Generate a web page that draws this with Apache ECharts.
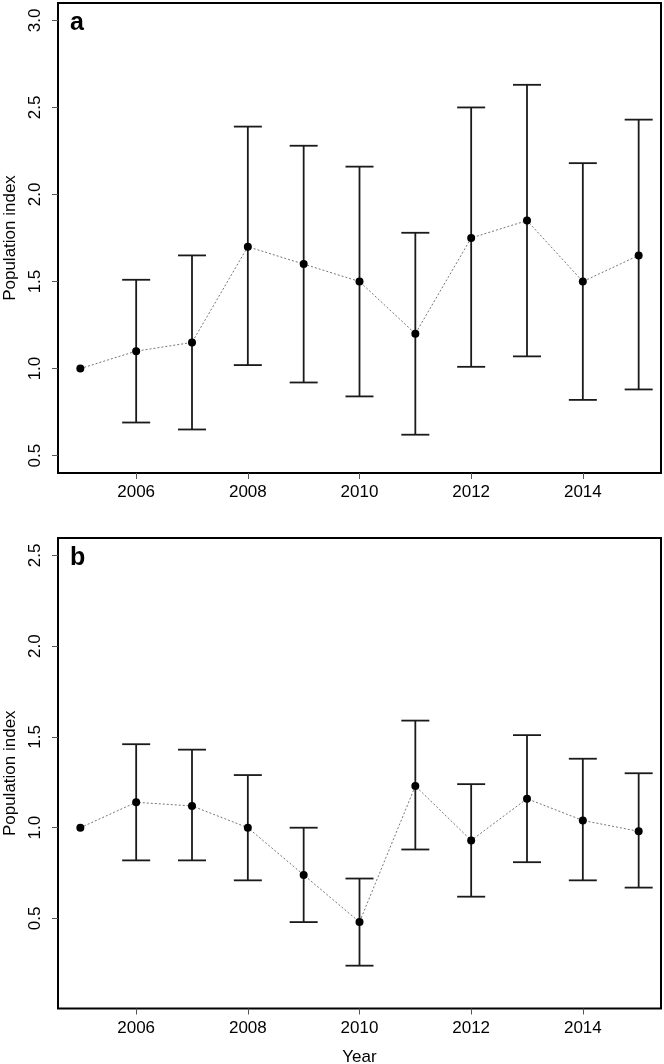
<!DOCTYPE html>
<html>
<head>
<meta charset="utf-8">
<script src="https://cdn.jsdelivr.net/npm/echarts@6/dist/echarts.min.js"></script>
<style>
  html, body { margin: 0; padding: 0; background: #fff; }
  #chart { width: 664px; height: 1064px; }
</style>
</head>
<body>
<div id="chart"></div>
<script>
// ---- data ----
const years = [2005, 2006, 2007, 2008, 2009, 2010, 2011, 2012, 2013, 2014, 2015];
const xTicks = [2006, 2008, 2010, 2012, 2014];

const indexA = [1.00, 1.10, 1.15, 1.70, 1.60, 1.50, 1.20, 1.75, 1.85, 1.50, 1.65];
const lowerA = [null, 0.69, 0.65, 1.02, 0.92, 0.84, 0.62, 1.01, 1.07, 0.82, 0.88];
const upperA = [null, 1.51, 1.65, 2.39, 2.28, 2.16, 1.78, 2.50, 2.63, 2.18, 2.43];
const yTicksA = [0.5, 1.0, 1.5, 2.0, 2.5, 3.0];

const indexB = [1.00, 1.14, 1.12, 1.00, 0.74, 0.48, 1.23, 0.93, 1.16, 1.04, 0.98];
const lowerB = [null, 0.82, 0.82, 0.71, 0.48, 0.24, 0.88, 0.62, 0.81, 0.71, 0.67];
const upperB = [null, 1.46, 1.43, 1.29, 1.00, 0.72, 1.59, 1.24, 1.51, 1.38, 1.30];
const yTicksB = [0.5, 1.0, 1.5, 2.0, 2.5];

const panelLabels = ['a', 'b'];
const yTitle = 'Population index';
const xTitle = 'Year';

// ---- chart ----
const FONT = '"Liberation Sans", Arial, sans-serif';
const chart = echarts.init(document.getElementById('chart'), null, { renderer: 'canvas' });

function pairs(vals) { return years.map((y, i) => [y, vals[i]]); }
function errData(lo, hi) {
  const out = [];
  years.forEach((y, i) => { if (lo[i] != null && hi[i] != null) out.push([y, lo[i], hi[i]]); });
  return out;
}

const barStyle = { stroke: '#1a1a1a', lineWidth: 1.8 };
function renderErr(params, api) {
  const x = api.value(0), lo = api.value(1), hi = api.value(2);
  const pLo = api.coord([x, lo]);
  const pHi = api.coord([x, hi]);
  const w = 14;
  return {
    type: 'group',
    children: [
      { type: 'line', shape: { x1: pHi[0], y1: pHi[1], x2: pLo[0], y2: pLo[1] }, style: barStyle },
      { type: 'line', shape: { x1: pHi[0] - w, y1: pHi[1], x2: pHi[0] + w, y2: pHi[1] }, style: barStyle },
      { type: 'line', shape: { x1: pLo[0] - w, y1: pLo[1], x2: pLo[0] + w, y2: pLo[1] }, style: barStyle }
    ]
  };
}

function xAxisCfg(gridIndex, withName) {
  return {
    type: 'value', gridIndex: gridIndex,
    min: 2004.6, max: 2015.4,
    axisLine: { show: false },
    splitLine: { show: false },
    axisTick: { show: true, length: 6, customValues: xTicks, lineStyle: { color: '#555', width: 1 } },
    axisLabel: {
      customValues: xTicks, formatter: v => String(v),
      color: '#000', fontSize: 17, fontFamily: FONT, margin: 11
    },
    name: withName ? xTitle : '',
    nameLocation: 'middle', nameGap: 40,
    nameTextStyle: { color: '#000', fontSize: 17, fontFamily: FONT }
  };
}
function yAxisCfg(gridIndex, min, max, ticks) {
  return {
    type: 'value', gridIndex: gridIndex,
    min: min, max: max,
    axisLine: { show: false },
    splitLine: { show: false },
    axisTick: { show: true, length: 6, customValues: ticks, lineStyle: { color: '#555', width: 1 } },
    axisLabel: {
      customValues: ticks, formatter: v => v.toFixed(1), rotate: 90,
      color: '#000', fontSize: 17, fontFamily: FONT, margin: 14
    },
    name: yTitle, nameLocation: 'middle', nameGap: 37, nameRotate: 90,
    nameTextStyle: { color: '#000', fontSize: 17, fontFamily: FONT }
  };
}

function panelSeries(idx, lo, hi, axisIndex) {
  return [
    {
      type: 'custom', xAxisIndex: axisIndex, yAxisIndex: axisIndex,
      renderItem: renderErr, data: errData(lo, hi), z: 2, silent: true
    },
    {
      type: 'line', xAxisIndex: axisIndex, yAxisIndex: axisIndex,
      data: pairs(idx), z: 1,
      lineStyle: { color: '#777', width: 1, type: [2, 2] },
      symbol: 'none', silent: true
    },
    {
      type: 'scatter', xAxisIndex: axisIndex, yAxisIndex: axisIndex,
      data: pairs(idx), z: 3,
      symbol: 'circle', symbolSize: 8,
      itemStyle: { color: '#000', opacity: 1 }, silent: true
    }
  ];
}

const gridBase = { left: 58, right: 3, show: true, borderColor: '#000', borderWidth: 2, backgroundColor: 'transparent', containLabel: false, outerBoundsMode: 'none' };
const option = {
  animation: false,
  backgroundColor: '#fff',
  grid: [
    Object.assign({}, gridBase, { top: 3, height: 470 }),
    Object.assign({}, gridBase, { top: 538, height: 470.5 })
  ],
  xAxis: [xAxisCfg(0, false), xAxisCfg(1, true)],
  yAxis: [yAxisCfg(0, 0.4, 3.1, yTicksA), yAxisCfg(1, 0.004, 2.596, yTicksB)],
  graphic: [
    { type: 'text', left: 70, top: 11, style: { text: panelLabels[0], font: 'bold 25px ' + FONT, fill: '#000' } },
    { type: 'text', left: 70, top: 546, style: { text: panelLabels[1], font: 'bold 25px ' + FONT, fill: '#000' } }
  ],
  series: [].concat(panelSeries(indexA, lowerA, upperA, 0), panelSeries(indexB, lowerB, upperB, 1))
};
chart.setOption(option);
</script>
</body>
</html>
